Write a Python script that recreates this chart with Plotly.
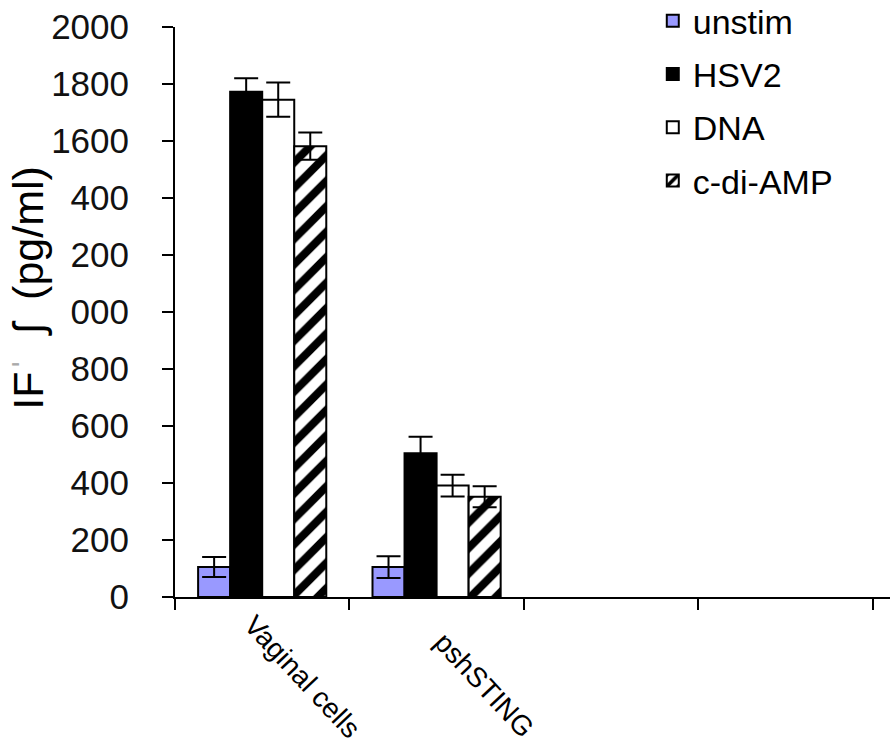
import plotly.graph_objects as go

# Category slots on the x axis (two are left empty)
categories = ["Vaginal cells", "pshSTING", " ", "  "]
groups = ["Vaginal cells", "pshSTING"]

# IFN-beta concentration (pg/ml) and standard errors per stimulus
unstim = [105, 105]
unstim_err = [35, 38]
hsv2 = [1773, 504]
hsv2_err = [47, 58]
dna = [1745, 391]
dna_err = [60, 38]
cdiamp = [1582, 352]
cdiamp_err = [48, 37]

# Y tick labels as printed on the axis
y_tickvals = [0, 200, 400, 600, 800, 1000, 1200, 1400, 1600, 1800, 2000]
y_ticktext = ["0", "200", "400", "600", "800", "000", "200", "400", "1600", "1800", "2000"]

FONT = "Liberation Sans, Arial, sans-serif"
err_style = dict(type="data", visible=True, color="black", thickness=2, width=12)

fig = go.Figure()
series = [
    ("unstim", unstim, unstim_err, dict(color="#9999FF")),
    ("HSV2", hsv2, hsv2_err, dict(color="black")),
    ("DNA", dna, dna_err, dict(color="white")),
    ("c-di-AMP", cdiamp, cdiamp_err,
     dict(color="white", pattern=dict(shape="/", fgcolor="black", bgcolor="white",
                                      fgopacity=1, fillmode="replace",
                                      size=18, solidity=0.45))),
]
for name, vals, errs, marker in series:
    marker["line"] = dict(color="black", width=2)
    fig.add_trace(go.Bar(
        x=groups, y=vals, name=name, legendgroup=name,
        marker=marker,
        error_y=dict(array=errs, **err_style),
    ))

# Rotated category labels
for g in groups:
    fig.add_annotation(
        x=g, xref="x", y=-0.262, yref="paper",
        text=g, textangle=47, showarrow=False,
        xanchor="right", yanchor="bottom", xshift=107,
        font=dict(family=FONT, size=28, color="black"),
    )

# Y axis title
fig.add_annotation(
    x=-0.206, xref="paper", y=0.542, yref="paper",
    text="IF<span style='color:#aaaaaa'>ˈ</span>  ʃ  (pg/ml)",
    textangle=-90, showarrow=False, xanchor="center", yanchor="middle",
    font=dict(family=FONT, size=43, color="black"),
)

fig.update_layout(
    width=893, height=755,
    margin=dict(l=175, r=3, t=27, b=158, autoexpand=False),
    paper_bgcolor="white", plot_bgcolor="white",
    barmode="group", bargap=0.265, bargroupgap=0,
    font=dict(family=FONT, color="black"),
    showlegend=True,
    legend=dict(
        xref="container", yref="paper",
        x=0.731, y=1.061, xanchor="left", yanchor="top",
        font=dict(family=FONT, size=34, color="black"),
        tracegroupgap=6, bgcolor="rgba(0,0,0,0)",
    ),
    xaxis=dict(
        type="category", categoryorder="array", categoryarray=categories,
        range=[-0.5, 3.6],
        showline=True, linecolor="black", linewidth=2,
        ticks="outside", tickson="boundaries", ticklen=11, tickwidth=2,
        tickcolor="black", showticklabels=False, showgrid=False,
    ),
    yaxis=dict(
        range=[0, 2000],
        tickmode="array", tickvals=y_tickvals, ticktext=y_ticktext,
        showline=True, linecolor="black", linewidth=2,
        ticks="outside", ticklen=11, tickwidth=2, tickcolor="black",
        ticklabelstandoff=26,
        tickfont=dict(family=FONT, size=35, color="#111111"),
        showgrid=False, zeroline=False,
    ),
)

fig.write_html("out.html")
